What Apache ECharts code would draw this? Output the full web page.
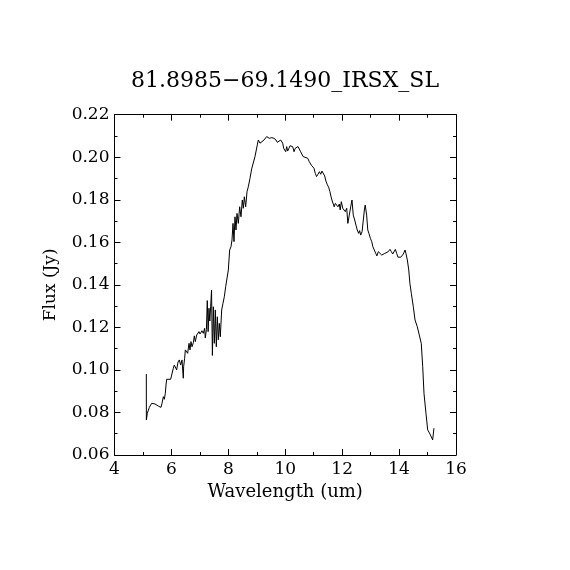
<!DOCTYPE html>
<html>
<head>
<meta charset="utf-8">
<script src="https://cdn.jsdelivr.net/npm/echarts@6/dist/echarts.min.js"></script>
<style>
html,body{margin:0;padding:0;background:#fff;}
#chart{width:570px;height:570px;}
</style>
</head>
<body>
<div id="chart"></div>
<script>
var titleText = '81.8985\u221269.1490_IRSX_SL';
var xTicks = [4, 6, 8, 10, 12, 14, 16];
var yTicks = [0.06, 0.08, 0.10, 0.12, 0.14, 0.16, 0.18, 0.20, 0.22];
var wavelength = [
5.118,5.120,5.154,5.224,5.306,5.364,5.423,5.482,5.540,5.599,5.634,5.669,5.716,5.751,5.786,5.810,5.833,5.891,5.974,6.009,
6.067,6.102,6.137,6.184,6.231,6.278,6.325,6.372,6.418,6.430,6.465,6.489,6.536,6.571,6.618,6.653,6.688,6.723,6.770,6.805,
6.840,6.887,6.934,6.969,7.004,7.074,7.121,7.168,7.190,7.230,7.260,7.290,7.320,7.350,7.380,7.410,7.440,7.473,7.508,7.543,
7.578,7.613,7.648,7.683,7.718,7.766,7.812,7.859,7.906,7.953,8.000,8.047,8.093,8.129,8.164,8.199,8.234,8.269,8.304,8.351,
8.398,8.445,8.491,8.527,8.562,8.609,8.656,8.702,8.761,8.820,8.937,9.018,9.053,9.113,9.172,9.253,9.348,9.440,9.524,9.604,
9.675,9.720,9.790,9.840,9.875,9.910,9.945,9.980,10.015,10.050,10.085,10.130,10.167,10.210,10.260,10.310,10.350,10.400,10.450,10.490,
10.540,10.590,10.630,10.700,10.790,10.845,10.890,10.915,10.960,11.010,11.056,11.100,11.150,11.200,11.245,11.290,11.340,11.385,11.430,11.480,
11.525,11.570,11.610,11.640,11.690,11.720,11.760,11.810,11.850,11.900,11.930,11.970,12.020,12.060,12.110,12.160,12.200,12.250,12.300,12.345,
12.390,12.440,12.485,12.530,12.580,12.615,12.650,12.700,12.740,12.780,12.810,12.860,12.900,12.940,12.990,13.040,13.080,13.130,13.180,13.220,
13.270,13.330,13.390,13.445,13.500,13.560,13.620,13.680,13.730,13.775,13.820,13.870,13.915,13.960,14.010,14.060,14.100,14.150,14.210,14.240,
14.290,14.340,14.380,14.430,14.500,14.560,14.640,14.710,14.780,14.830,14.875,14.945,15.005,15.085,15.180,15.225
];
var flux = [
0.0981,0.0765,0.0796,0.0824,0.0843,0.0849,0.0840,0.0846,0.0830,0.0837,0.0824,0.0843,0.0874,0.0862,0.0890,0.0929,0.0956,0.0953,0.0956,0.0976,
0.1008,0.1023,0.1031,0.1000,0.1037,0.1047,0.1023,0.1047,0.0961,0.1015,0.1055,0.1094,0.1102,0.1078,0.1125,0.1094,0.1133,0.1109,0.1128,0.1160,
0.1133,0.1164,0.1156,0.1180,0.1169,0.1184,0.1172,0.1196,0.1150,0.1190,0.1326,0.1180,0.1290,0.1230,0.1300,0.1376,0.1068,0.1297,0.1125,0.1282,
0.1109,0.1250,0.1141,0.1219,0.1156,0.1282,0.1313,0.1344,0.1391,0.1399,0.1470,0.1564,0.1579,0.1611,0.1689,0.1603,0.1720,0.1658,0.1736,0.1689,
0.1767,0.1720,0.1799,0.1760,0.1814,0.1767,0.1838,0.1861,0.1901,0.1945,0.2003,0.2058,0.2081,0.2066,0.2066,0.2081,0.2097,0.2089,0.2092,0.2089,
0.2081,0.2070,0.2066,0.2081,0.2089,0.2066,0.2042,0.2050,0.2026,0.2050,0.2029,0.2042,0.2054,0.2045,0.2050,0.2026,0.2042,0.2034,0.2050,0.2042,
0.2026,0.2029,0.2003,0.1998,0.1995,0.1979,0.1987,0.1963,0.1960,0.1948,0.1924,0.1909,0.1920,0.1932,0.1920,0.1935,0.1929,0.1912,0.1888,0.1870,
0.1859,0.1838,0.1814,0.1799,0.1802,0.1767,0.1783,0.1775,0.1767,0.1780,0.1752,0.1791,0.1760,0.1767,0.1744,0.1760,0.1689,0.1728,0.1767,0.1799,
0.1728,0.1705,0.1681,0.1658,0.1642,0.1655,0.1634,0.1650,0.1642,0.1752,0.1775,0.1728,0.1658,0.1642,0.1619,0.1603,0.1579,0.1572,0.1548,0.1536,
0.1556,0.1548,0.1540,0.1532,0.1548,0.1551,0.1556,0.1567,0.1556,0.1545,0.1548,0.1567,0.1548,0.1530,0.1536,0.1530,0.1525,0.1545,0.1564,0.1548,
0.1517,0.1470,0.1407,0.1360,0.1297,0.1235,0.1203,0.1164,0.1125,0.1015,0.0890,0.0796,0.0718,0.0699,0.0671,0.0726
];

var pts = wavelength.map(function (w, i) { return [w, flux[i]]; });
var FONT = 'DejaVu Serif';
var axisCommon = {
  axisLine: { show: true, onZero: false, lineStyle: { color: '#000', width: 1 } },
  axisTick: { show: true, inside: true, length: 6, lineStyle: { color: '#000', width: 1 } },
  minorTick: { show: true, splitNumber: 2, length: 3, lineStyle: { color: '#000', width: 1 } },
  splitLine: { show: false },
  minorSplitLine: { show: false }
};
function xAxisDef(pos, labels) {
  return Object.assign({
    type: 'value', position: pos, min: xTicks[0], max: xTicks[xTicks.length - 1],
    interval: xTicks[1] - xTicks[0],
    axisLabel: { show: labels, color: '#000', fontFamily: FONT, fontSize: 17, margin: 6 },
    name: labels ? 'Wavelength (um)' : '', nameLocation: 'middle', nameGap: 25,
    nameTextStyle: { color: '#000', fontFamily: FONT, fontSize: 18 }
  }, axisCommon);
}
function yAxisDef(pos, labels) {
  return Object.assign({
    type: 'value', position: pos, min: yTicks[0], max: yTicks[yTicks.length - 1],
    interval: 0.02,
    axisLabel: { show: labels, color: '#000', fontFamily: FONT, fontSize: 17, margin: 5,
      formatter: function (v) { return v.toFixed(2); } },
    name: labels ? 'Flux (Jy)' : '', nameLocation: 'middle', nameGap: 55,
    nameTextStyle: { color: '#000', fontFamily: FONT, fontSize: 17 }
  }, axisCommon);
}
var chart = echarts.init(document.getElementById('chart'), null, { renderer: 'canvas' });
chart.setOption({
  animation: false,
  backgroundColor: '#fff',
  title: { text: titleText, left: 'center', top: 65,
    textStyle: { color: '#000', fontFamily: FONT, fontWeight: 'normal', fontSize: 22 } },
  grid: { left: 114.5, right: 114, top: 114.7, bottom: 115, containLabel: false },
  xAxis: [xAxisDef('bottom', true), xAxisDef('top', false)],
  yAxis: [yAxisDef('left', true), yAxisDef('right', false)],
  series: [{
    type: 'line', data: pts, xAxisIndex: 0, yAxisIndex: 0,
    showSymbol: false, symbol: 'none',
    lineStyle: { color: '#000', width: 1 }, smooth: false
  }]
});
</script>
</body>
</html>
